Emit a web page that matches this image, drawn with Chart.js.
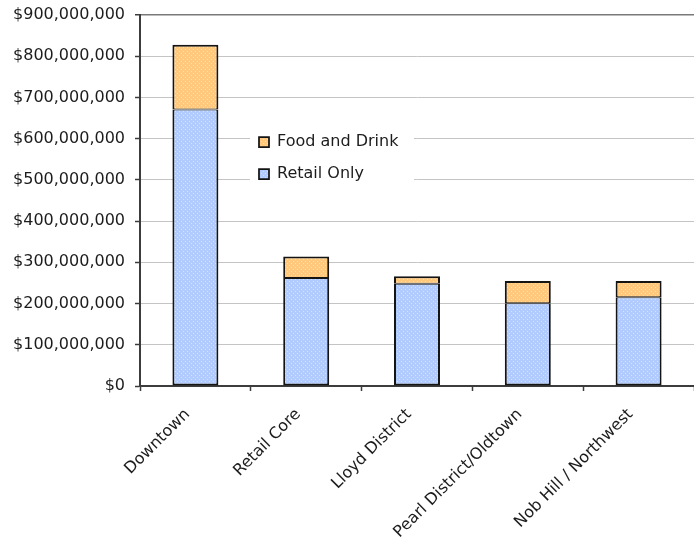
<!DOCTYPE html>
<html>
<head>
<meta charset="utf-8">
<script src="https://cdn.jsdelivr.net/npm/chart.js@4"></script>
<style>
  html, body { margin: 0; padding: 0; background: #fff; }
  #wrap { width: 694px; height: 538px; position: relative; }
</style>
</head>
<body>
<div id="wrap"><canvas id="salesChart"></canvas></div>
<script>
const categories = ['Downtown', 'Retail Core', 'Lloyd District', 'Pearl District/Oldtown', 'Nob Hill / Northwest'];
const retailOnly = [671000000, 262000000, 248000000, 201000000, 215000000];
const foodAndDrink = [157000000, 52000000, 18000000, 54000000, 40000000];
const yTicks = [0, 100000000, 200000000, 300000000, 400000000, 500000000, 600000000, 700000000, 800000000, 900000000];

const FONT = 'DejaVu Sans';
const TEXT = '#1c1c1c';
const AXIS = '#3c3c3c';

// small dotted fill, like the old office chart patterns
function dotPattern(base, dot) {
    const tile = document.createElement('canvas');
    tile.width = 4;
    tile.height = 4;
    const c = tile.getContext('2d');
    c.fillStyle = base;
    c.fillRect(0, 0, 4, 4);
    c.fillStyle = dot;
    c.fillRect(1, 1, 1, 1);
    c.fillRect(3, 3, 1, 1);
    return c.createPattern(tile, 'repeat');
}

const bluePattern = dotPattern('#b2cbff', '#d6e3ff');
const orangePattern = dotPattern('#ffc87c', '#ffe2b8');

// legend sits inside the plot, over a white box that hides the gridlines
const legendBox = { left: 250, top: 125, width: 164, height: 66 };

const legendPlacer = {
    id: 'legendPlacer',
    afterInit(chart) {
        const legend = chart.legend;
        legend._layers = () => [{ z: 1, draw: (area) => legend.draw(area) }];
    },
    beforeDraw(chart) {
        const legend = chart.legend;
        legend.left = 243;
        legend.top = 118;
        legend.right = legend.left + 200;
        legend.bottom = legend.top + 100;
        legend.width = 200;
        legend.height = 100;
    },
    afterDatasetsDraw(chart) {
        const ctx = chart.ctx;
        ctx.save();
        ctx.fillStyle = '#ffffff';
        ctx.fillRect(legendBox.left, legendBox.top, legendBox.width, legendBox.height);
        ctx.restore();
    }
};

new Chart(document.getElementById('salesChart'), {
    type: 'bar',
    data: {
        labels: categories,
        datasets: [
            {
                label: 'Retail Only',
                data: retailOnly,
                backgroundColor: bluePattern,
                borderColor: '#141414',
                borderWidth: { left: 2, right: 2, bottom: 2, top: 1 },
                borderSkipped: false,
                categoryPercentage: 1,
                barPercentage: 0.415
            },
            {
                label: 'Food and Drink',
                data: foodAndDrink,
                backgroundColor: orangePattern,
                borderColor: '#141414',
                borderWidth: { left: 2, right: 2, bottom: 1, top: 2 },
                borderSkipped: false,
                categoryPercentage: 1,
                barPercentage: 0.415
            }
        ]
    },
    options: {
        responsive: true,
        maintainAspectRatio: false,
        animation: false,
        layout: { padding: { top: 15, right: 0, bottom: 0, left: 0 } },
        plugins: {
            tooltip: { enabled: false },
            legend: {
                position: 'chartArea',
                align: 'start',
                reverse: true,
                labels: {
                    boxWidth: 10,
                    boxHeight: 10,
                    padding: 16,
                    color: TEXT,
                    font: { family: FONT, size: 16 }
                }
            }
        },
        scales: {
            x: {
                stacked: true,
                grid: { display: true, drawOnChartArea: false, offset: true, tickLength: 5, tickColor: AXIS, tickWidth: 1.5 },
                border: { display: true, color: AXIS, width: 2 },
                ticks: {
                    color: TEXT,
                    font: { family: FONT, size: 16 },
                    minRotation: 45,
                    maxRotation: 45,
                    autoSkip: false,
                    labelOffset: -8,
                    padding: 14
                },
                afterFit(scale) { scale.height = 152; }
            },
            y: {
                stacked: true,
                min: 0,
                max: 900000000,
                afterBuildTicks(scale) { scale.ticks = yTicks.map(v => ({ value: v })); },
                grid: {
                    color: (c) => c.tick && c.tick.value === 900000000 ? '#7a7a7a' : '#c4c4c4',
                    lineWidth: (c) => c.tick && c.tick.value === 900000000 ? 1.5 : 1,
                    tickLength: 5,
                    tickColor: AXIS,
                    tickWidth: 1.5
                },
                border: { display: true, color: AXIS, width: 2 },
                ticks: {
                    color: TEXT,
                    font: { family: FONT, size: 16 },
                    padding: 10,
                    callback: (v) => '$' + Number(v).toLocaleString('en-US')
                },
                afterFit(scale) {
                    scale.width = 140;
                    scale.paddingTop = 0;
                    scale.paddingBottom = 0;
                }
            }
        }
    },
    plugins: [legendPlacer]
});
</script>
</body>
</html>
